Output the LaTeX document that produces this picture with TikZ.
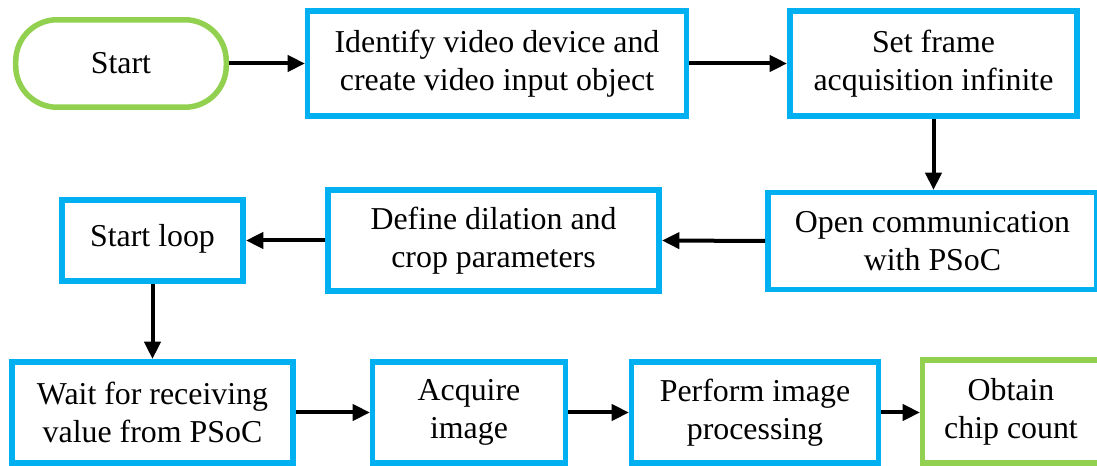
\documentclass[tikz,border=0pt]{standalone}
\usepackage{fontspec}
\setmainfont{Liberation Serif}
\newfontfamily\boxfont{Liberation Serif}
\usetikzlibrary{arrows.meta}
\definecolor{boxblue}{HTML}{00B0F0}
\definecolor{termgreen}{HTML}{92D050}
\tikzset{
  stepbox/.style={draw=boxblue, line width=4.125pt, fill=white, align=center,
    inner sep=0pt, font=\boxfont\fontsize{23.9}{28.6}\selectfont},
  termbox/.style={stepbox, draw=termgreen},
  flow/.style={line width=3pt, -{Triangle[length=13pt,width=12pt]}},
}
\begin{document}
\begin{tikzpicture}[x=0.75pt,y=-0.75pt]
\useasboundingbox (0,0) rectangle (1097,466);
\clip (0,0) rectangle (1097,466);
% top row
\node[termbox, rounded corners=31pt, minimum width=157.9pt, minimum height=65.6pt] (start) at (121,63.5) {Start};
\node[stepbox, minimum width=283.9pt, minimum height=79.1pt] (ident) at (497,63.5) {Identify video device and\\create video input object};
\node[stepbox, minimum width=215.6pt, minimum height=79.1pt] (setf) at (933.5,63.5) {Set frame\\acquisition infinite};
% middle row
\node[stepbox, minimum width=247.1pt, minimum height=72.4pt] (open) at (932.5,241) {Open communication\\with PSoC};
\node[stepbox, minimum width=248.6pt, minimum height=76.1pt] (define) at (493.5,240.5) {Define dilation and\\crop parameters};
\node[stepbox, minimum width=136.1pt, minimum height=61.1pt] (loop) at (152.5,240.5) {\raisebox{7.5pt}{Start loop}};
% bottom row
\node[stepbox, minimum width=211.1pt, minimum height=76.1pt] (wait) at (152.5,412.5) {Wait for receiving\\value from PSoC};
\node[stepbox, minimum width=144.4pt, minimum height=76.1pt] (acq) at (469,412.5) {Acquire\\image};
\node[stepbox, minimum width=184.9pt, minimum height=76.1pt] (perf) at (755,412.5) {Perform image\\processing};
\node[termbox, minimum width=132.4pt, minimum height=77.6pt] (obtain) at (1011,411.5) {Obtain\\chip count};
% connectors
\draw[flow] (start.east) -- (ident.west);
\draw[flow] (ident.east) -- (setf.west);
\draw[flow] (setf.south) -- (setf.south |- open.north);
\draw[flow] (open.west) -- (define.east);
\draw[flow] (define.west) -- (loop.east);
\draw[flow] (loop.south) -- (wait.north);
\draw[flow] (wait.east) -- (acq.west);
\draw[flow] (acq.east) -- (perf.west);
\draw[flow] (perf.east) -- (perf.east -| obtain.west);
\end{tikzpicture}
\end{document}
